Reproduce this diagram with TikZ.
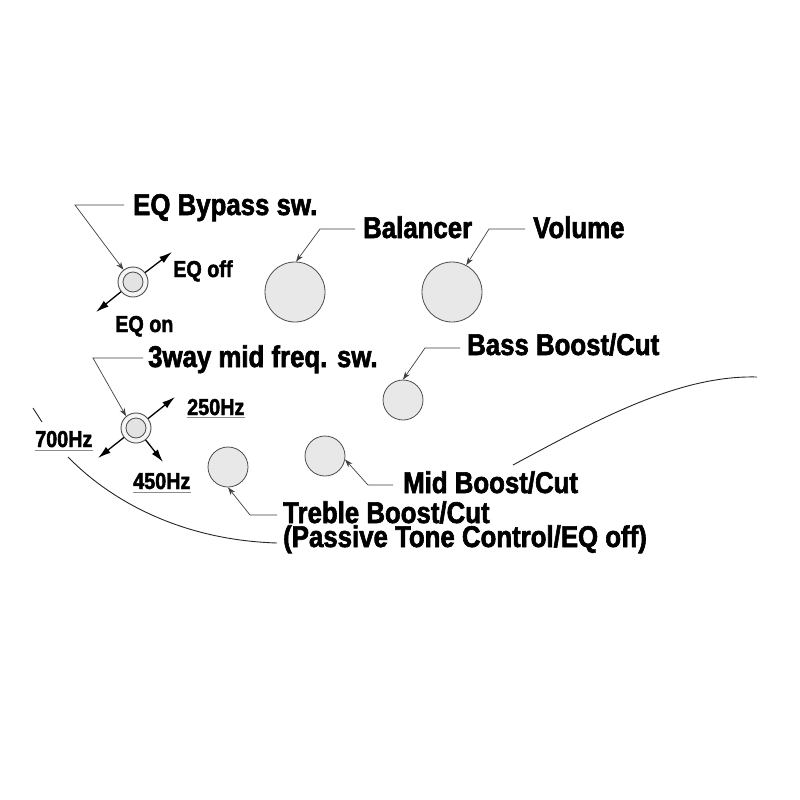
\documentclass[tikz,border=0pt]{standalone}
\usepackage{fontspec}
\setmainfont{Liberation Sans}[FakeStretch=0.86, BoldFeatures={FakeBold=2}]
\usetikzlibrary{arrows.meta}
\tikzset{
 lbl/.style={font=\bfseries\fontsize{30}{24}\selectfont, inner sep=0pt, anchor=base west, text=black},
 slbl/.style={font=\bfseries\fontsize{23}{25}\selectfont, inner sep=0pt, anchor=base west, text=black},
 knob/.style={circle, draw=black!70, fill=black!9, line width=0.8pt, inner sep=0pt, minimum size=#1},
 swouter/.style={circle, draw=black!70, fill=black!4, line width=0.9pt, inner sep=0pt, minimum size=30pt},
 swinner/.style={circle, draw=black!70, fill=black!11, line width=0.8pt, inner sep=0pt, minimum size=20pt},
 leader/.style={draw=black!75, line width=0.7pt, -{Stealth[length=8pt,width=5.5pt]}},
 swarrow/.style={draw=black, line width=1.3pt, -{Latex[length=13pt,width=7.5pt]}},
 uline/.style={draw=black!45, line width=0.6pt},
 body/.style={draw=black!85, line width=0.9pt},
}
\begin{document}
\begin{tikzpicture}[x=1pt,y=-1pt]
\useasboundingbox[fill=white] (0,0) rectangle (800,800);

% body outline
\draw[body] (33,408) -- (42,422);
\draw[body] (68,457) .. controls (110,500) and (180,540) .. (277,543);
\draw[body] (513,465) .. controls (600,418) and (680,375) .. (757,377);

% knobs
\node[knob=60pt] (bal) at (295,292) {};
\node[knob=60pt] (vol) at (452,292) {};
\node[knob=40pt] (bass) at (403,400) {};
\node[knob=40pt] (mid) at (325,456) {};
\node[knob=40pt] (tre) at (228,467) {};

% switches
\node[swouter] (sw1) at (133,282) {};
\node[swinner] (sw1i) at (sw1) {};
\node[swouter] (sw2) at (136,428) {};
\node[swinner] (sw2i) at (sw2) {};

% labels
\node[lbl] (bypass) at (133,215) {EQ Bypass sw.};
\node[lbl] (ballbl) at (363,238) {Balancer};
\node[lbl] (vollbl) at (533,238) {Volume};
\node[slbl] (eqoff) at (173,277) {EQ off};
\node[slbl] (eqon) at (115,332) {EQ on};
\node[lbl] (way) at (148,367) {3way mid freq. sw.};
\node[lbl] (basslbl) at (467,355) {Bass Boost/Cut};
\node[slbl] (f250) at (187,415) {250Hz};
\node[slbl] (f700) at (35,447) {700Hz};
\node[slbl] (f450) at (133,489) {450Hz};
\node[lbl] (midlbl) at (403,493) {Mid Boost/Cut};
\node[lbl, align=left] (trelbl) at (283,547) {Treble Boost/Cut\\(Passive Tone Control/EQ off)};

% underlines
\draw[uline] ([yshift=-2.5pt]f250.base west) -- ([yshift=-2.5pt]f250.base east);
\draw[uline] ([yshift=-3.5pt]f700.base west) -- ([yshift=-3.5pt]f700.base east);
\draw[uline] ([yshift=-3.5pt]f450.base west) -- ([yshift=-3.5pt]f450.base east);

% leader coordinates
\coordinate (bp1) at (124,205); \coordinate (bp2) at (75,205);
\coordinate (bl1) at (355,229); \coordinate (bl2) at (320,229);
\coordinate (vl1) at (525,229); \coordinate (vl2) at (489,229);
\coordinate (wy1) at (143,358); \coordinate (wy2) at (93,358);
\coordinate (bs1) at (460,348); \coordinate (bs2) at (425,348);
\coordinate (md1) at (393,485); \coordinate (md2) at (368,485);
\coordinate (tr1) at (277,515); \coordinate (tr2) at (250,515);

\draw[leader] (bp1) -- (bp2) -- (sw1.128);
\draw[leader] (bl1) -- (bl2) -- (bal.88);
\draw[leader] (vl1) -- (vl2) -- (vol.62);
\draw[leader] (wy1) -- (wy2) -- (sw2.130);
\draw[leader] (bs1) -- (bs2) -- (bass.90);
\draw[leader] (md1) -- (md2) -- (mid.-10);
\draw[leader] (tr1) -- (tr2) -- (tre.-90);

% switch position arrows
\coordinate (offtip) at (172,252);
\coordinate (ontip) at (96,312);
\coordinate (t250) at (175,397);
\coordinate (t700) at (98,458);
\coordinate (t450) at (163,462);
\draw[swarrow] (sw1.38) -- (offtip);
\draw[swarrow] (sw1.219) -- (ontip);
\draw[swarrow] (sw2.38) -- (t250);
\draw[swarrow] (sw2.218) -- (t700);
\draw[swarrow] (sw2.-51) -- (t450);
\end{tikzpicture}
\end{document}
